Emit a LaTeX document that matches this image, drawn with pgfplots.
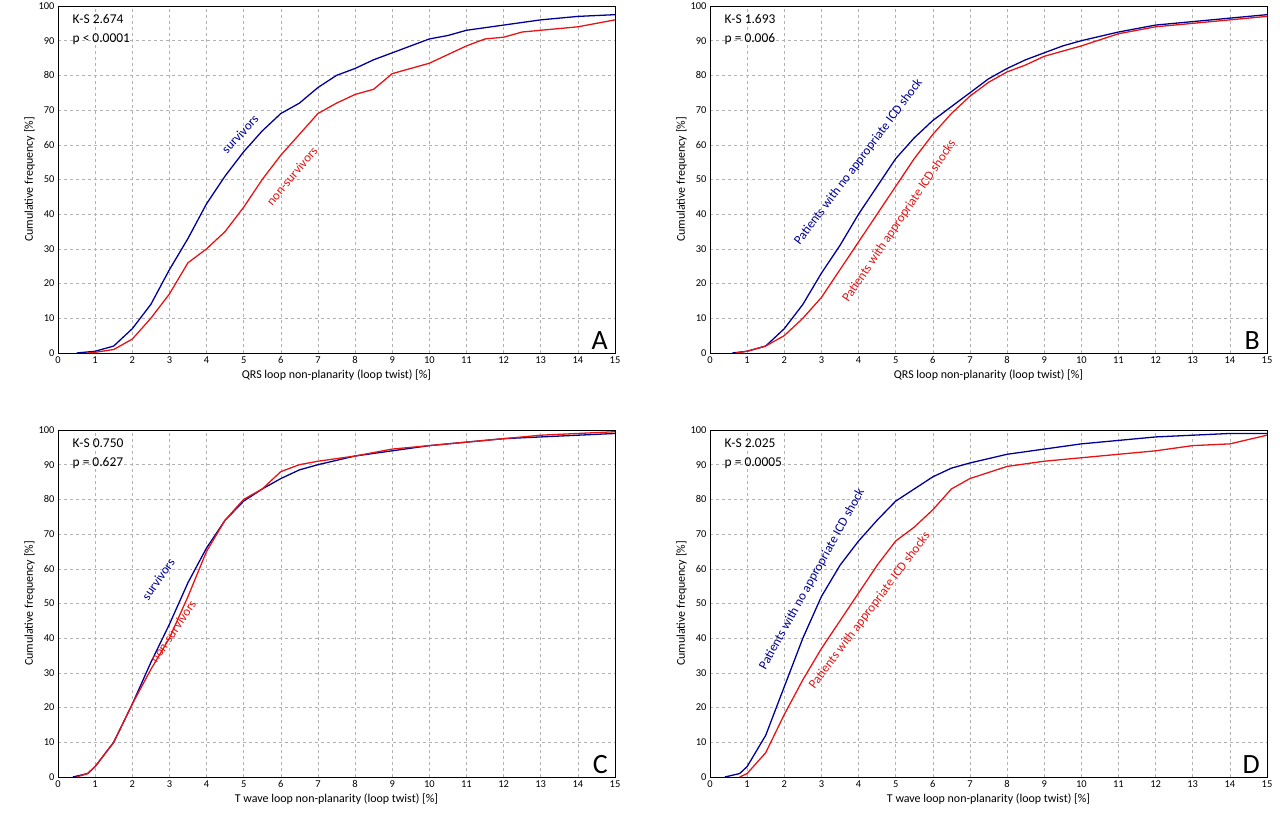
\documentclass[border=0pt]{standalone}
\usepackage{pgfplots}
\pgfplotsset{compat=1.18}
\usepackage{fontspec}
\setmainfont{Carlito}
\definecolor{bl}{RGB}{0,0,150}
\definecolor{rd}{RGB}{230,20,20}
\pgfplotsset{
  panel/.style={scale only axis, width=557bp, height=347bp, anchor=south west,
    xmin=0,xmax=15,ymin=0,ymax=100, xtick={0,...,15}, ytick={0,10,...,100},
    grid=major, major grid style={gray!60,dashed,line width=0.5pt},
    axis line style={line width=0.8pt}, tick style={draw=none},
    ticklabel style={font=\fontsize{10.5}{12}\selectfont},
    /pgf/number format/assume math mode=true,
    label style={font=\fontsize{12}{14}\selectfont},
    ylabel={Cumulative frequency [\%]}, ylabel shift=-3pt, xlabel shift=-1pt},
  bline/.style={bl,line width=1.3pt,no marks},
  rline/.style={rd,line width=1.3pt,no marks},
}
\begin{document}
\begin{tikzpicture}
\useasboundingbox (0bp,0bp) rectangle (1280bp,830bp);
% A
\begin{axis}[panel, at={(58bp,477bp)}, xlabel={QRS loop non-planarity (loop twist) [\%]}]
\addplot[bline] coordinates {(0.5,0)(1,0.5)(1.5,2)(2,7)(2.5,14)(3,24)(3.5,33)(4,43)(4.5,51)(5,58)(5.5,64)(6,69)(6.5,72)(7,76.5)(7.5,80)(8,82)(8.5,84.5)(9,86.5)(9.5,88.5)(10,90.5)(10.5,91.5)(11,93)(12,94.5)(13,96)(14,97)(15,97.5)};
\addplot[rline] coordinates {(0.8,0)(1,0.2)(1.5,1)(2,4)(2.5,10)(3,17)(3.5,26)(4,30)(4.5,35)(5,42)(5.5,50)(6,57)(6.5,63)(7,69)(7.5,72)(8,74.5)(8.5,76)(9,80.5)(9.5,82)(10,83.5)(10.5,86)(11,88.5)(11.5,90.5)(12,91)(12.5,92.5)(13,93)(14,94)(15,96)};
\node[bl,rotate=47,font=\fontsize{13}{14}\selectfont] at (axis cs:4.9,63) {survivors};
\node[rd,rotate=50,font=\fontsize{13}{14}\selectfont] at (axis cs:6.3,51) {non-survivors};
\node[anchor=north west,align=left,font=\fontsize{13.5}{19}\selectfont] at (axis cs:0.3,98.5) {K-S 2.674\\p < 0.0001};
\node[anchor=south east,font=\fontsize{28}{30}\selectfont] at (axis cs:14.9,0) {A};
\end{axis}
% B
\begin{axis}[panel, at={(710bp,477bp)}, xlabel={QRS loop non-planarity (loop twist) [\%]}]
\addplot[bline] coordinates {(0.6,0)(1,0.5)(1.5,2)(2,7)(2.5,14)(3,23)(3.5,31)(4,40)(4.5,48)(5,56)(5.5,62)(6,67)(6.5,71)(7,75)(7.5,79)(8,82)(8.5,84.5)(9,86.5)(9.5,88.5)(10,90)(11,92.5)(12,94.5)(13,95.5)(14,96.5)(15,97.5)};
\addplot[rline] coordinates {(0.7,0)(1,0.5)(1.5,2)(2,5)(2.5,10)(3,16)(3.5,24)(4,32)(4.5,40)(5,48)(5.5,56)(6,63)(6.5,69)(7,74)(7.5,78)(8,81)(8.5,83)(9,85.5)(9.5,87)(10,88.5)(11,92)(12,94)(13,95)(14,96)(15,97)};
\node[bl,rotate=53,font=\fontsize{13}{14}\selectfont] at (axis cs:4.0,55) {Patients with no appropriate ICD shock};
\node[rd,rotate=56,font=\fontsize{13}{14}\selectfont] at (axis cs:5.1,38) {Patients with appropriate ICD shocks};
\node[anchor=north west,align=left,font=\fontsize{13.5}{19}\selectfont] at (axis cs:0.3,98.5) {K-S 1.693\\p = 0.006};
\node[anchor=south east,font=\fontsize{28}{30}\selectfont] at (axis cs:14.9,0) {B};
\end{axis}
% C
\begin{axis}[panel, at={(58bp,53bp)}, xlabel={T wave loop non-planarity (loop twist) [\%]}]
\addplot[bline] coordinates {(0.4,0)(0.8,1)(1,3)(1.5,10)(2,21)(2.5,33)(3,44)(3.5,56)(4,66)(4.5,74)(5,79.5)(5.5,83)(6,86)(6.5,88.5)(7,90)(8,92.5)(9,94)(10,95.5)(11,96.5)(12,97.5)(13,98)(14,98.5)(15,99)};
\addplot[rline] coordinates {(0.5,0)(0.8,1)(1,3)(1.5,10)(2,21)(2.5,31)(3,40)(3.5,52)(4,65)(4.5,74)(5,80)(5.5,83)(6,88)(6.5,90)(7,91)(8,92.5)(9,94.5)(10,95.5)(11,96.5)(12,97.5)(13,98.5)(14,99)(15,99.5)};
\node[bl,rotate=55,font=\fontsize{13}{14}\selectfont] at (axis cs:2.7,57) {survivors};
\node[rd,rotate=56,font=\fontsize{13}{14}\selectfont] at (axis cs:3.1,42) {non-survivors};
\node[anchor=north west,align=left,font=\fontsize{13.5}{19}\selectfont] at (axis cs:0.3,98.5) {K-S 0.750\\p = 0.627};
\node[anchor=south east,font=\fontsize{28}{30}\selectfont] at (axis cs:14.9,0) {C};
\end{axis}
% D
\begin{axis}[panel, at={(710bp,53bp)}, xlabel={T wave loop non-planarity (loop twist) [\%]}]
\addplot[bline] coordinates {(0.4,0)(0.8,1)(1,3)(1.5,12)(2,26)(2.5,40)(3,52)(3.5,61)(4,68)(4.5,74)(5,79.5)(5.5,83)(6,86.5)(6.5,89)(7,90.5)(8,93)(9,94.5)(10,96)(11,97)(12,98)(13,98.5)(14,99)(15,99)};
\addplot[rline] coordinates {(0.8,0)(1,1)(1.5,7)(2,18)(2.5,28)(3,37)(3.5,45)(4,53)(4.5,61)(5,68)(5.5,72)(6,77)(6.5,83)(7,86)(8,89.5)(9,91)(10,92)(11,93)(12,94)(13,95.5)(14,96)(15,98.5)};
\node[bl,rotate=61,font=\fontsize{13}{14}\selectfont] at (axis cs:2.75,57) {Patients with no appropriate ICD shock};
\node[rd,rotate=53,font=\fontsize{13}{14}\selectfont] at (axis cs:4.3,48) {Patients with appropriate ICD shocks};
\node[anchor=north west,align=left,font=\fontsize{13.5}{19}\selectfont] at (axis cs:0.3,98.5) {K-S 2.025\\p = 0.0005};
\node[anchor=south east,font=\fontsize{28}{30}\selectfont] at (axis cs:14.9,0) {D};
\end{axis}
\end{tikzpicture}
\end{document}
